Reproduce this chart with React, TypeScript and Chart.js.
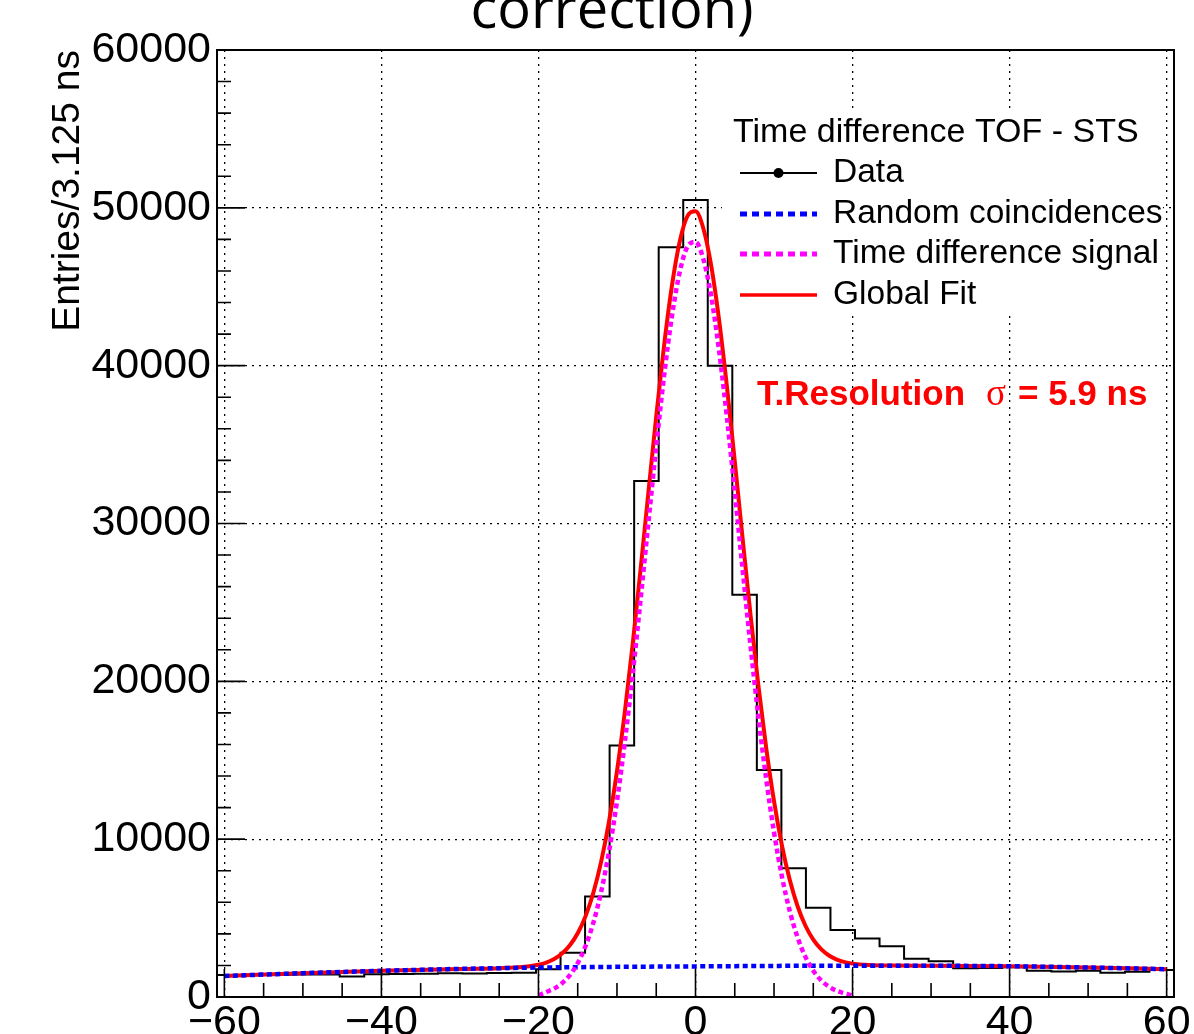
import { useEffect, useRef } from "react";
import { Chart, registerables } from "chart.js";

Chart.register(...registerables);

// ---- histogram definition ----
const BIN_LOW = -60.9375;
const BIN_WIDTH = 3.125;
const dataCounts = [
  1390, 1400, 1410, 1420, 1430, 1300, 1440, 1450, 1480, 1510, 1490, 1520, 1540,
  1760, 2810, 6360, 15930, 32700, 47500, 50500, 40000, 25480, 14390, 8150, 5660,
  4250, 3700, 3210, 2420, 2270, 1820, 1830, 1880, 1670, 1610, 1670, 1540, 1600,
  1710,
];

// ---- random coincidences (background) ----
const bgX = [-60, -50, -40, -30, -20, -10, 0, 10, 20, 30, 40, 50, 60];
const bgY = [1330, 1510, 1660, 1780, 1865, 1910, 1940, 1970, 1985, 1980, 1950, 1870, 1760];

// ---- time difference signal ----
const sigX = [
  -20, -19, -18, -17, -16, -15, -14, -13, -12, -11, -10, -9, -8, -7, -6, -5, -4, -3, -2, -1,
  0, 1, 2, 3, 4, 5, 6, 7, 8, 9, 10, 11, 12, 13, 14, 15, 16, 17, 18, 19, 20,
];
const sigY = [
  100, 315, 532, 872, 1390, 2149, 3232, 4722, 6706, 9250, 12401, 16152, 20439, 25138,
  30038, 34876, 39350, 43139, 45950, 47565, 47838, 46750, 44394, 40965, 36725, 31997,
  27087, 22283, 17809, 13829, 10437, 7654, 5451, 3775, 2539, 1662, 1054, 650, 390, 227, 80,
];

// ---- global fit ----
const fitX = [
  -60, -50, -40, -30, -25, -22,
  -20, -19, -18, -17, -16, -15, -14, -13, -12, -11, -10, -9, -8, -7, -6, -5, -4, -3, -2, -1,
  0, 1, 2, 3, 4, 5, 6, 7, 8, 9, 10, 11, 12, 13, 14, 15, 16, 17, 18, 19, 20,
  22, 25, 30, 40, 50, 60,
];
const fitY = [
  1330, 1510, 1660, 1780, 1828, 1903,
  2047, 2185, 2406, 2751, 3273, 4036, 5124, 6618, 8606, 11155, 14311, 18065, 22355, 27057,
  31960, 36801, 41278, 45070, 47884, 49502,
  49778, 48693, 46340, 42914, 38677, 33952, 29045, 24244, 19773, 15796, 12407, 9626, 7424,
  5750, 4515, 3640, 3033, 2631, 2372, 2211, 2114,
  2023, 1988, 1980, 1950, 1870, 1760,
];

// ---- axes ----
const xTickValues = [-60, -40, -20, 0, 20, 40, 60];
const xMinorStep = 5;
const yTickValues = [0, 10000, 20000, 30000, 40000, 50000, 60000];
const yMinorStep = 2000;
const Y_MAX = 60000;

// ---- texts ----
const topTitle = "correction)";
const yTitle = "Entries/3.125 ns";
const legendHeader = "Time difference TOF - STS";
const legendLabels = ["Data", "Random coincidences", "Time difference signal", "Global Fit"];
const resolutionParts = ["T.Resolution", "\u03c3", "= 5.9 ns"];

const FONT = '"Liberation Sans", Arial, Helvetica, sans-serif';

function fmtTick(v: number): string {
  return v < 0 ? "\u2212" + Math.abs(v) : String(v);
}

const decorPlugin = {
  id: "rootDecor",
  afterDraw(chart: any) {
    const ctx: CanvasRenderingContext2D = chart.ctx;
    const { left, right, top, bottom } = chart.chartArea;
    const xs = chart.scales.x;
    const ys = chart.scales.y;
    ctx.save();

    // ticks (inside the frame, ROOT style)
    ctx.strokeStyle = "#000";
    ctx.lineWidth = 1.6;
    ctx.setLineDash([]);
    ctx.beginPath();
    const xFirst = xTickValues[0];
    const xLast = xTickValues[xTickValues.length - 1];
    for (let v = xFirst; v <= xLast + 1e-9; v += xMinorStep) {
      const px = xs.getPixelForValue(v);
      const major = xTickValues.includes(v);
      const len = major ? 28 : 14;
      ctx.moveTo(px, bottom);
      ctx.lineTo(px, bottom - len);
    }
    for (let v = 0; v <= Y_MAX + 1e-9; v += yMinorStep) {
      const py = ys.getPixelForValue(v);
      const major = yTickValues.includes(v);
      const len = major ? 28 : 14;
      ctx.moveTo(left, py);
      ctx.lineTo(left + len, py);
    }
    ctx.stroke();

    // frame
    ctx.lineWidth = 2;
    ctx.strokeRect(left, top, right - left, bottom - top);

    // legend box
    ctx.fillStyle = "#fff";
    ctx.fillRect(722, 110, 441, 206);

    ctx.fillStyle = "#000";
    ctx.font = `34px ${FONT}`;
    ctx.textAlign = "left";
    ctx.textBaseline = "alphabetic";
    ctx.fillText(legendHeader, 733, 142);

    const rowY = [173, 214, 254, 295];
    const textY = [182, 223, 263, 304];
    const x0 = 740;
    const x1 = 817;
    // Data
    ctx.strokeStyle = "#000";
    ctx.lineWidth = 2;
    ctx.beginPath();
    ctx.moveTo(x0, rowY[0]);
    ctx.lineTo(x1, rowY[0]);
    ctx.stroke();
    ctx.beginPath();
    ctx.arc((x0 + x1) / 2, rowY[0], 5, 0, Math.PI * 2);
    ctx.fill();
    // Random
    ctx.lineWidth = 5;
    ctx.setLineDash([7, 5]);
    ctx.strokeStyle = "#0000ff";
    ctx.beginPath();
    ctx.moveTo(x0, rowY[1]);
    ctx.lineTo(x1, rowY[1]);
    ctx.stroke();
    // Signal
    ctx.strokeStyle = "#ff00ff";
    ctx.beginPath();
    ctx.moveTo(x0, rowY[2]);
    ctx.lineTo(x1, rowY[2]);
    ctx.stroke();
    // Fit
    ctx.setLineDash([]);
    ctx.lineWidth = 3.5;
    ctx.strokeStyle = "#ff0000";
    ctx.beginPath();
    ctx.moveTo(x0, rowY[3]);
    ctx.lineTo(x1, rowY[3]);
    ctx.stroke();

    ctx.fillStyle = "#000";
    ctx.font = `33.5px ${FONT}`;
    legendLabels.forEach((t, i) => ctx.fillText(t, 833, textY[i]));

    // resolution annotation
    ctx.fillStyle = "#ff0000";
    ctx.font = `bold 35px ${FONT}`;
    ctx.fillText(resolutionParts[0], 757, 405);
    ctx.font = `37px "Liberation Serif", serif`;
    ctx.fillText(resolutionParts[1], 986, 405);
    ctx.font = `bold 35px ${FONT}`;
    ctx.fillText(resolutionParts[2], 1018, 405);

    // y axis title (right aligned at the top of the axis)
    ctx.fillStyle = "#000";
    ctx.font = `39px ${FONT}`;
    ctx.save();
    ctx.translate(68, top);
    ctx.rotate(-Math.PI / 2);
    ctx.textAlign = "right";
    ctx.textBaseline = "middle";
    ctx.fillText(yTitle, 0, 0);
    ctx.restore();

    // partially visible title
    ctx.font = `56px "Open Sans", sans-serif`;
    ctx.textAlign = "center";
    ctx.textBaseline = "alphabetic";
    ctx.fillText(topTitle, 612, 28);

    ctx.restore();
  },
};

export default function App() {
  const ref = useRef<HTMLCanvasElement | null>(null);

  useEffect(() => {
    if (!ref.current) return;
    const histPoints = dataCounts.map((v, k) => ({ x: BIN_LOW + k * BIN_WIDTH, y: v }));
    histPoints.push({
      x: BIN_LOW + dataCounts.length * BIN_WIDTH,
      y: dataCounts[dataCounts.length - 1],
    });
    const bgPoints = bgX.map((x, i) => ({ x, y: bgY[i] }));
    const sigPoints = sigX.map((x, i) => ({ x, y: sigY[i] }));
    const fitPoints = fitX.map((x, i) => ({ x, y: fitY[i] }));

    const chart = new Chart(ref.current, {
      type: "line",
      data: {
        datasets: [
          {
            label: legendLabels[0],
            data: histPoints,
            stepped: true,
            borderColor: "#000",
            borderWidth: 2,
            pointRadius: 0,
            fill: false,
            order: 3,
          },
          {
            label: legendLabels[3],
            data: fitPoints,
            borderColor: "#ff0000",
            borderWidth: 4,
            pointRadius: 0,
            cubicInterpolationMode: "monotone",
            fill: false,
            order: 2,
          },
          {
            label: legendLabels[1],
            data: bgPoints,
            borderColor: "#0000ff",
            borderWidth: 4.5,
            borderDash: [5, 3.5],
            pointRadius: 0,
            cubicInterpolationMode: "monotone",
            fill: false,
            order: 1,
          },
          {
            label: legendLabels[2],
            data: sigPoints,
            borderColor: "#ff00ff",
            borderWidth: 4.5,
            borderDash: [5, 3.5],
            pointRadius: 0,
            cubicInterpolationMode: "monotone",
            fill: false,
            order: 0,
          },
        ] as any,
      },
      options: {
        animation: false,
        responsive: false,
        maintainAspectRatio: false,
        layout: { padding: { top: 50, right: 20, left: 0, bottom: 0 } },
        plugins: {
          legend: { display: false },
          tooltip: { enabled: false },
          title: { display: false },
        },
        scales: {
          x: {
            type: "linear",
            min: BIN_LOW,
            max: BIN_LOW + dataCounts.length * BIN_WIDTH,
            afterBuildTicks: (s: any) => {
              s.ticks = xTickValues.map((v) => ({ value: v }));
            },
            afterFit: (s: any) => {
              s.height = 37;
              s.paddingLeft = 0;
              s.paddingRight = 0;
            },
            grid: { color: "#000", lineWidth: 1.3, drawTicks: false },
            border: { display: false, dash: [2, 5] },
            ticks: {
              color: "#000",
              font: { family: FONT, size: 43 },
              padding: 0,
              maxRotation: 0,
              autoSkip: false,
              callback: (v: any) => fmtTick(Number(v)),
            },
          },
          y: {
            type: "linear",
            min: 0,
            max: Y_MAX,
            afterBuildTicks: (s: any) => {
              s.ticks = yTickValues.map((v) => ({ value: v }));
            },
            afterFit: (s: any) => {
              s.width = 217;
              s.paddingTop = 0;
              s.paddingBottom = 0;
            },
            grid: { color: "#000", lineWidth: 1.3, drawTicks: false },
            border: { display: false, dash: [2, 5] },
            ticks: {
              color: "#000",
              font: { family: FONT, size: 43 },
              padding: 6,
              autoSkip: false,
              callback: (v: any) => String(v),
            },
          },
        },
      } as any,
      plugins: [decorPlugin],
    });
    return () => chart.destroy();
  }, []);

  return (
    <div
      style={{
        position: "fixed",
        left: 0,
        top: 0,
        width: 1194,
        height: 1034,
        background: "#fff",
      }}
    >
      <canvas ref={ref} width={1194} height={1034} style={{ display: "block" }} />
    </div>
  );
}
